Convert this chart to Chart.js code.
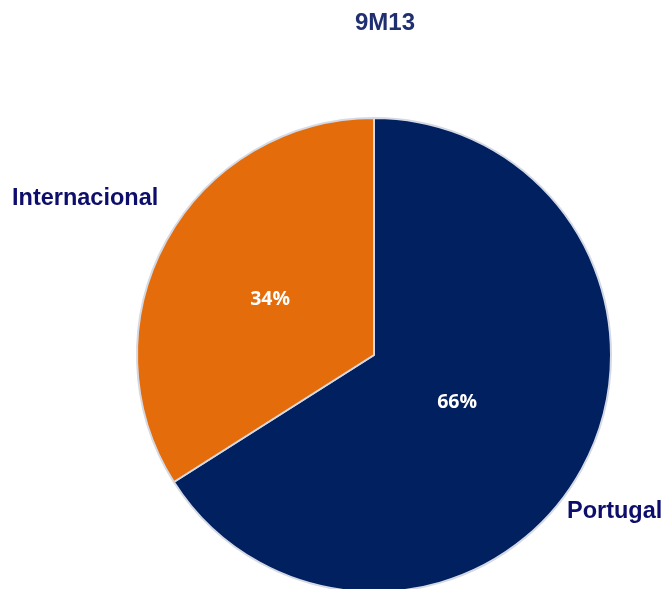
<!DOCTYPE html>
<html><head><meta charset="utf-8">
<script src="https://cdn.jsdelivr.net/npm/chart.js@4"></script>
<style>html,body{margin:0;padding:0;background:#fff;}#wrap{width:666px;height:589px;position:relative;}</style>
</head><body><div id="wrap"><canvas id="c" width="666" height="589"></canvas></div>
<script>
const title = "9M13";
const categories = ["Portugal", "Internacional"];
const values = [66, 34];
const valueLabels = ["66%", "34%"];
const colors = ["#00205F", "#E46C0A"];

const labelPlugin = {
  id: 'labels',
  afterDatasetsDraw(chart) {
    const ctx = chart.ctx;
    const arcs = chart.getDatasetMeta(0).data;
    const frac = [0.40, 0.5];
    ctx.save();
    ctx.fillStyle = '#ffffff';
    ctx.font = 'bold 19.5px "Open Sans"';
    ctx.textAlign = 'center';
    ctx.textBaseline = 'middle';
    arcs.forEach((a, i) => {
      const p = a.getProps(['x','y','startAngle','endAngle','outerRadius'], true);
      const mid = (p.startAngle + p.endAngle) / 2;
      const d = p.outerRadius * frac[i];
      ctx.fillText(valueLabels[i], p.x + Math.cos(mid) * d, p.y + Math.sin(mid) * d + 2);
    });
    ctx.fillStyle = '#1F2F6F';
    ctx.font = 'bold 24px "Liberation Sans", Arial';
    ctx.fillText(title, 385, 23);
    ctx.fillStyle = '#0D0D6B';
    ctx.font = 'bold 23.5px "Liberation Sans", Arial';
    ctx.textAlign = 'left';
    ctx.fillText(categories[1], 12, 199);
    ctx.fillText(categories[0], 567, 512);
    ctx.restore();
  }
};

new Chart(document.getElementById('c'), {
  type: 'pie',
  data: {
    labels: categories,
    datasets: [{
      data: values,
      backgroundColor: colors,
      borderColor: '#D5D9E4',
      borderWidth: 2,
      clip: false
    }]
  },
  options: {
    responsive: false,
    animation: false,
    radius: 237,
    layout: { padding: { left: 82, right: 0, top: 121, bottom: 0 } },
    plugins: { legend: { display: false }, tooltip: { enabled: false }, title: { display: false } }
  },
  plugins: [labelPlugin]
});
</script>
</body></html>
